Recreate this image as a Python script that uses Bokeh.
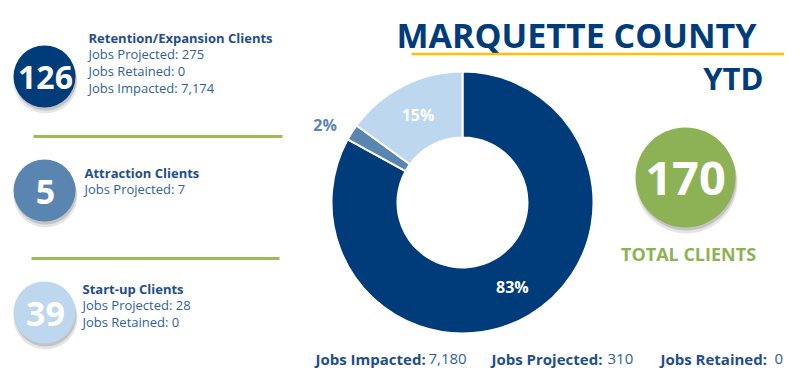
import math
from bokeh.plotting import figure
from bokeh.models import Range1d
from bokeh.core.properties import value
from bokeh.embed import file_html
from bokeh.resources import INLINE

# ---------------- data ----------------
title_text = "MARQUETTE COUNTY"
subtitle_text = "YTD"
categories = ["Retention/Expansion Clients", "Attraction Clients", "Start-up Clients"]
client_counts = [126, 5, 39]
category_details = [
    ["Jobs Projected: 275", "Jobs Retained: 0", "Jobs Impacted: 7,174"],
    ["Jobs Projected: 7"],
    ["Jobs Projected: 28", "Jobs Retained: 0"],
]
category_colors = ["#003B7A", "#5B85B1", "#BDD7EE"]

pie_shares = [83, 2, 15]
pie_labels = ["83%", "2%", "15%"]
pie_colors = ["#003B7A", "#5B85B1", "#BDD7EE"]

total_clients = 170
total_label = "TOTAL CLIENTS"

summary_labels = ["Jobs Impacted:", "Jobs Projected:", "Jobs Retained:"]
summary_values = ["7,180", "310", "0"]

# ---------------- helpers ----------------
FONT = value("Open Sans")
DARK = "#1F4E8C"
MID_TXT = "#2F5F9E"
GREEN = "#8DB255"
GOLD = "#FFC000"


def Y(v):
    # convert reference pixel row to data y
    return 385 - v


p = figure(width=784, height=369, x_range=Range1d(0, 784), y_range=Range1d(16, 385),
           output_backend="svg", toolbar_location=None, min_border=0)
p.axis.visible = False
p.grid.visible = False
p.outline_line_color = None
p.background_fill_color = "white"
p.border_fill_color = "white"

# ---------------- title ----------------
p.text(x=[396], y=[Y(34)], text=[title_text], text_font=FONT, text_font_style="bold",
       text_font_size="34px", text_color="#003B7A", text_align="left", text_baseline="middle")
p.segment(x0=[411], y0=[Y(53.5)], x1=[784], y1=[Y(53.5)], line_color=GOLD, line_width=2.5)
p.text(x=[763], y=[Y(77)], text=[subtitle_text], text_font=FONT, text_font_style="bold",
       text_font_size="31px", text_color="#003B7A", text_align="right", text_baseline="middle")

# ---------------- left column ----------------
circle_cx = 44
circle_cy = [76, 190, 312]
circle_r = 31
head_x = [88, 84, 82]
head_y = [37, 172, 288]
line_gap = 16.8

for i, cat in enumerate(categories):
    cy = circle_cy[i]
    # shadow
    p.circle(x=[circle_cx + 1], y=[Y(cy + 5)], radius=circle_r + 1, fill_color="#000000",
             fill_alpha=0.10, line_color=None)
    p.circle(x=[circle_cx + 1], y=[Y(cy + 3)], radius=circle_r, fill_color="#000000",
             fill_alpha=0.15, line_color=None)
    p.circle(x=[circle_cx], y=[Y(cy)], radius=circle_r, fill_color=category_colors[i],
             line_color=None)
    p.text(x=[circle_cx + 1], y=[Y(cy + 1)], text=[str(client_counts[i])], text_font=FONT,
           text_font_style="bold", text_font_size="32px" if client_counts[i] > 99 else "34px",
           text_color="white", text_align="center", text_baseline="middle")
    p.text(x=[head_x[i]], y=[Y(head_y[i])], text=[cat], text_font=FONT, text_font_style="bold",
           text_font_size="13px", text_color=DARK, text_align="left", text_baseline="middle")
    for j, line in enumerate(category_details[i]):
        p.text(x=[head_x[i]], y=[Y(head_y[i] + line_gap * (j + 1))], text=[line], text_font=FONT,
               text_font_size="13px", text_color=MID_TXT, text_align="left",
               text_baseline="middle")

# green separators
p.segment(x0=[33, 31], y0=[Y(136), Y(258)], x1=[282, 279], y1=[Y(136), Y(258)],
          line_color="#9BBB59", line_width=3)

# ---------------- donut ----------------
cx, cy = 462, 202
r_out, r_in = 131, 65
total = float(sum(pie_shares))
cum = 0.0
starts, ends, mids = [], [], []
for s in pie_shares:
    a0 = math.pi / 2 - 2 * math.pi * cum / total
    cum += s
    a1 = math.pi / 2 - 2 * math.pi * cum / total
    starts.append(a0)
    ends.append(a1)
    mids.append((a0 + a1) / 2)

p.annular_wedge(x=[cx] * 3, y=[Y(cy)] * 3, inner_radius=r_in, outer_radius=r_out,
                start_angle=starts, end_angle=ends, direction="clock",
                fill_color=pie_colors, line_color="white", line_width=2)

for i, lab in enumerate(pie_labels):
    inside = pie_shares[i] >= 5
    rr = (r_in + r_out) / 2 if inside else r_out + 27
    ang = mids[i] if inside else mids[i] + 0.05
    lx = cx + rr * math.cos(ang)
    ly = Y(cy) + rr * math.sin(ang)
    p.text(x=[lx], y=[ly], text=[lab], text_font=FONT, text_font_style="bold",
           text_font_size="16px", text_color="white" if inside else pie_colors[i],
           text_align="center", text_baseline="middle")

# ---------------- total clients ----------------
tcx, tcy, tr = 685, 177, 50
p.circle(x=[tcx + 1], y=[Y(tcy + 5)], radius=tr + 1, fill_color="#000000", fill_alpha=0.10,
         line_color=None)
p.circle(x=[tcx + 1], y=[Y(tcy + 3)], radius=tr, fill_color="#000000", fill_alpha=0.15,
         line_color=None)
p.circle(x=[tcx], y=[Y(tcy)], radius=tr, fill_color=GREEN, line_color=None)
p.text(x=[tcx], y=[Y(tcy + 1)], text=[str(total_clients)], text_font=FONT,
       text_font_style="bold", text_font_size="47px", text_color="white",
       text_align="center", text_baseline="middle")
p.text(x=[688], y=[Y(253)], text=[total_label], text_font=FONT, text_font_style="bold",
       text_font_size="18px", text_color=GREEN, text_align="center", text_baseline="middle")

# ---------------- bottom summary ----------------
label_x = [315, 491, 660]
value_x = [428, 607, 774]
for i in range(3):
    p.text(x=[label_x[i]], y=[Y(358)], text=[summary_labels[i]], text_font=FONT,
           text_font_style="bold", text_font_size="15px", text_color=DARK, text_align="left",
           text_baseline="middle")
    p.text(x=[value_x[i]], y=[Y(358)], text=[summary_values[i]], text_font=FONT,
           text_font_size="15px", text_color=MID_TXT, text_align="left", text_baseline="middle")

open("out.html", "w").write(file_html(p, INLINE))
